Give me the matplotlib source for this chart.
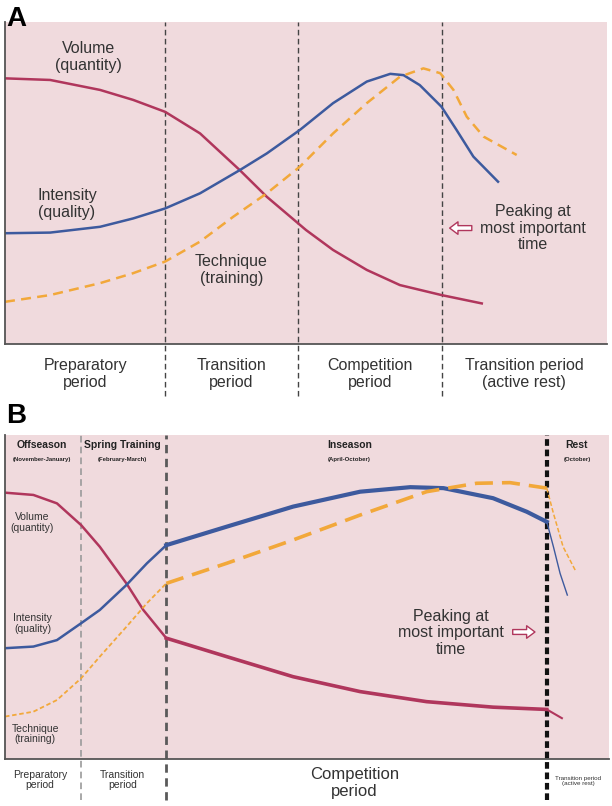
import matplotlib.pyplot as plt
import numpy as np

plt.rcParams['font.family'] = ['Liberation Sans', 'DejaVu Sans']

# colours
pink = '#f0dadd'
red = '#b0365c'
blue = '#3d5a9e'
orange = '#f2a83a'

# ---- panel A data (time 0-100, level 0-100) ----
a_dividers = [26.6, 48.7, 72.6]
a_periods = ['Preparatory\nperiod', 'Transition\nperiod', 'Competition\nperiod',
             'Transition period\n(active rest)']
a_period_x = [13.3, 37.6, 60.6, 86.2]

a_vol_x = [0, 7.5, 15.8, 21.3, 26.6, 32.4, 39.0, 43.5, 50.0, 54.5, 60.1, 65.6, 72.5, 79.2]
a_vol_y = [82.5, 82.0, 78.9, 75.8, 72.1, 65.4, 54.0, 45.7, 35.4, 29.2, 23.0, 18.3, 15.2, 12.6]

a_int_x = [0, 7.5, 15.8, 21.3, 26.6, 32.4, 39.0, 43.5, 49.0, 54.5, 60.1, 64.0, 66.2, 68.9,
           72.5, 75.0, 77.8, 81.9]
a_int_y = [34.4, 34.6, 36.4, 39.0, 42.1, 46.8, 54.0, 59.2, 66.5, 74.8, 81.5, 83.9, 83.5, 80.4,
           73.7, 66.5, 58.2, 50.4]

a_tec_x = [0, 7.5, 15.8, 21.3, 26.6, 32.4, 37.9, 43.5, 49.0, 54.5, 60.1, 65.6, 69.5, 72.3,
           74.5, 76.7, 79.5, 85.0]
a_tec_y = [13.1, 15.2, 18.9, 22.0, 25.6, 31.8, 39.5, 46.8, 55.1, 65.4, 74.8, 83.0, 85.6, 84.1,
           78.9, 70.6, 64.4, 58.7]

# ---- panel B data ----
b_dividers = [12.6, 26.7, 89.7]
b_seasons = ['Offseason', 'Spring Training', 'Inseason', 'Rest']
b_months = ['(November-January)', '(February-March)', '(April-October)', '(October)']
b_season_x = [6.1, 19.5, 57.0, 94.7]

b_vol_x = [0, 4.7, 8.6, 12.6, 15.7, 20.1, 22.9, 26.7, 36.7, 47.7, 58.8, 69.8, 80.8, 89.7, 92.2]
b_vol_y = [82.2, 81.5, 78.9, 72.2, 65.5, 54.2, 46.0, 37.3, 31.6, 25.4, 20.8, 17.7, 16.0, 15.3, 12.6]

b_int_x = [0, 4.7, 8.6, 12.6, 15.7, 20.1, 23.5, 26.7, 36.7, 47.7, 58.8, 67.1, 72.6, 80.8,
           86.4, 89.7, 90.8, 91.9, 93.1]
b_int_y = [34.2, 34.7, 36.7, 41.9, 46.0, 53.7, 60.4, 66.0, 71.7, 77.9, 82.5, 83.9, 83.6, 80.5,
           76.3, 73.2, 65.5, 57.3, 50.6]

b_tec_x = [0, 4.7, 8.6, 12.6, 15.7, 20.1, 23.5, 26.7, 36.7, 47.7, 58.8, 69.8, 78.1, 83.6,
           89.7, 90.8, 92.4, 94.4]
b_tec_y = [13.1, 14.6, 18.2, 24.9, 31.6, 40.8, 48.1, 54.2, 60.4, 67.6, 75.3, 82.5, 85.1, 85.3,
           83.6, 75.8, 65.5, 58.3]

fig = plt.figure(figsize=(6.12, 8.06), dpi=100)
fig.patch.set_facecolor('white')

axA = fig.add_axes([5 / 612, 1 - 344 / 806, 602 / 612, 322 / 806])
axB = fig.add_axes([5 / 612, 1 - 759 / 806, 604 / 612, 324 / 806])

for ax in (axA, axB):
    ax.set_xlim(0, 100)
    ax.set_ylim(0, 100)
    ax.set_facecolor(pink)
    ax.set_xticks([])
    ax.set_yticks([])
    for s in ('top', 'right'):
        ax.spines[s].set_visible(False)
    for s in ('left', 'bottom'):
        ax.spines[s].set_color('#555555')
        ax.spines[s].set_linewidth(1.3)

# ---------------- Panel A ----------------
for xd in a_dividers:
    axA.axvline(xd, ymin=-0.16, ymax=1, color='#444444', lw=1, ls=(0, (4, 2.5)), clip_on=False)

axA.plot(a_vol_x, a_vol_y, color=red, lw=1.8, solid_joinstyle='round')
axA.plot(a_int_x, a_int_y, color=blue, lw=1.8, solid_joinstyle='round')
axA.plot(a_tec_x, a_tec_y, color=orange, lw=1.8, ls=(0, (4, 2.5)))

txt = dict(ha='center', va='center', fontsize=11.5, color='#333333', linespacing=1.15)
axA.text(13.8, 89.1, 'Volume\n(quantity)', **txt)
axA.text(10.3, 43.5, 'Intensity\n(quality)', **txt)
axA.text(37.6, 23.0, 'Technique\n(training)', **txt)
axA.text(87.7, 36.0, 'Peaking at\nmost important\ntime', **txt)
axA.annotate('', xy=(73.4, 36.0), xytext=(78.0, 36.0),
             arrowprops=dict(arrowstyle='simple,head_width=0.9,head_length=0.6,tail_width=0.35',
                             fc='white', ec=red, lw=1))

for xp, lab in zip(a_period_x, a_periods):
    axA.text(xp, -9.3, lab, clip_on=False, **txt)

fig.text(6 / 612, 1 - 6 / 806, 'A', fontsize=20, fontweight='bold', ha='left', va='top')

# ---------------- Panel B ----------------
div_styles = [dict(color='#9a9a9a', lw=1.2, ls=(0, (4, 2.5))),
              dict(color='#5a5a5a', lw=2.0, ls=(0, (3, 2))),
              dict(color='#111111', lw=3.0, ls=(0, (1.6, 0.9)))]
for xd, st in zip(b_dividers, div_styles):
    axB.axvline(xd, ymin=-0.127, ymax=1, clip_on=False, **st)


def split(xs, ys, lo, hi):
    xs = np.asarray(xs)
    ys = np.asarray(ys)
    m = (xs >= lo - 1e-6) & (xs <= hi + 1e-6)
    return xs[m], ys[m]


k1, k2 = b_dividers[1], b_dividers[2]

# volume
x, y = split(b_vol_x, b_vol_y, 0, k1)
axB.plot(x, y, color=red, lw=1.8, solid_joinstyle='round')
x, y = split(b_vol_x, b_vol_y, k1, k2)
axB.plot(x, y, color=red, lw=2.6, solid_joinstyle='round')
x, y = split(b_vol_x, b_vol_y, k2, 100)
axB.plot(x, y, color=red, lw=1.5)

# intensity
x, y = split(b_int_x, b_int_y, 0, k1)
axB.plot(x, y, color=blue, lw=1.8, solid_joinstyle='round')
x, y = split(b_int_x, b_int_y, k1, k2)
axB.plot(x, y, color=blue, lw=3.0, solid_joinstyle='round')
x, y = split(b_int_x, b_int_y, k2, 100)
axB.plot(x, y, color=blue, lw=1.0)

# technique
x, y = split(b_tec_x, b_tec_y, 0, k1)
axB.plot(x, y, color=orange, lw=1.3, ls=(0, (2.5, 1.5)))
x, y = split(b_tec_x, b_tec_y, k1, k2)
axB.plot(x, y, color=orange, lw=2.6, ls=(0, (5, 2.5)))
x, y = split(b_tec_x, b_tec_y, k2, 100)
axB.plot(x, y, color=orange, lw=1.1, ls=(0, (3, 1.5)))

for xs, s1, s2 in zip(b_season_x, b_seasons, b_months):
    axB.text(xs, 96.9, s1, ha='center', va='center', fontsize=7.5, fontweight='bold', color='#222222')
    axB.text(xs, 92.3, s2, ha='center', va='center', fontsize=4.3, fontweight='bold', color='#222222')

small = dict(ha='center', va='center', fontsize=7.5, color='#333333', linespacing=1.1)
axB.text(4.5, 73.1, 'Volume\n(quantity)', **small)
axB.text(4.6, 41.7, 'Intensity\n(quality)', **small)
axB.text(5.0, 7.7, 'Technique\n(training)', **small)
axB.text(73.8, 38.9, 'Peaking at\nmost important\ntime', **txt)
axB.annotate('', xy=(88.2, 39.2), xytext=(83.6, 39.2),
             arrowprops=dict(arrowstyle='simple,head_width=0.9,head_length=0.6,tail_width=0.35',
                             fc='white', ec=red, lw=1))

axB.text(5.8, -6.5, 'Preparatory\nperiod', clip_on=False, **small)
axB.text(19.5, -6.5, 'Transition\nperiod', clip_on=False, **small)
axB.text(57.9, -7.4, 'Competition\nperiod', ha='center', va='center', fontsize=12, color='#333333',
         linespacing=1.15, clip_on=False)
axB.text(94.9, -6.8, 'Transition period\n(active rest)', ha='center', va='center', fontsize=4.5,
         color='#333333', linespacing=1.2, clip_on=False)

fig.text(6 / 612, 1 - 403 / 806, 'B', fontsize=20, fontweight='bold', ha='left', va='top')

fig.savefig('out.png', dpi=100, facecolor='white')
